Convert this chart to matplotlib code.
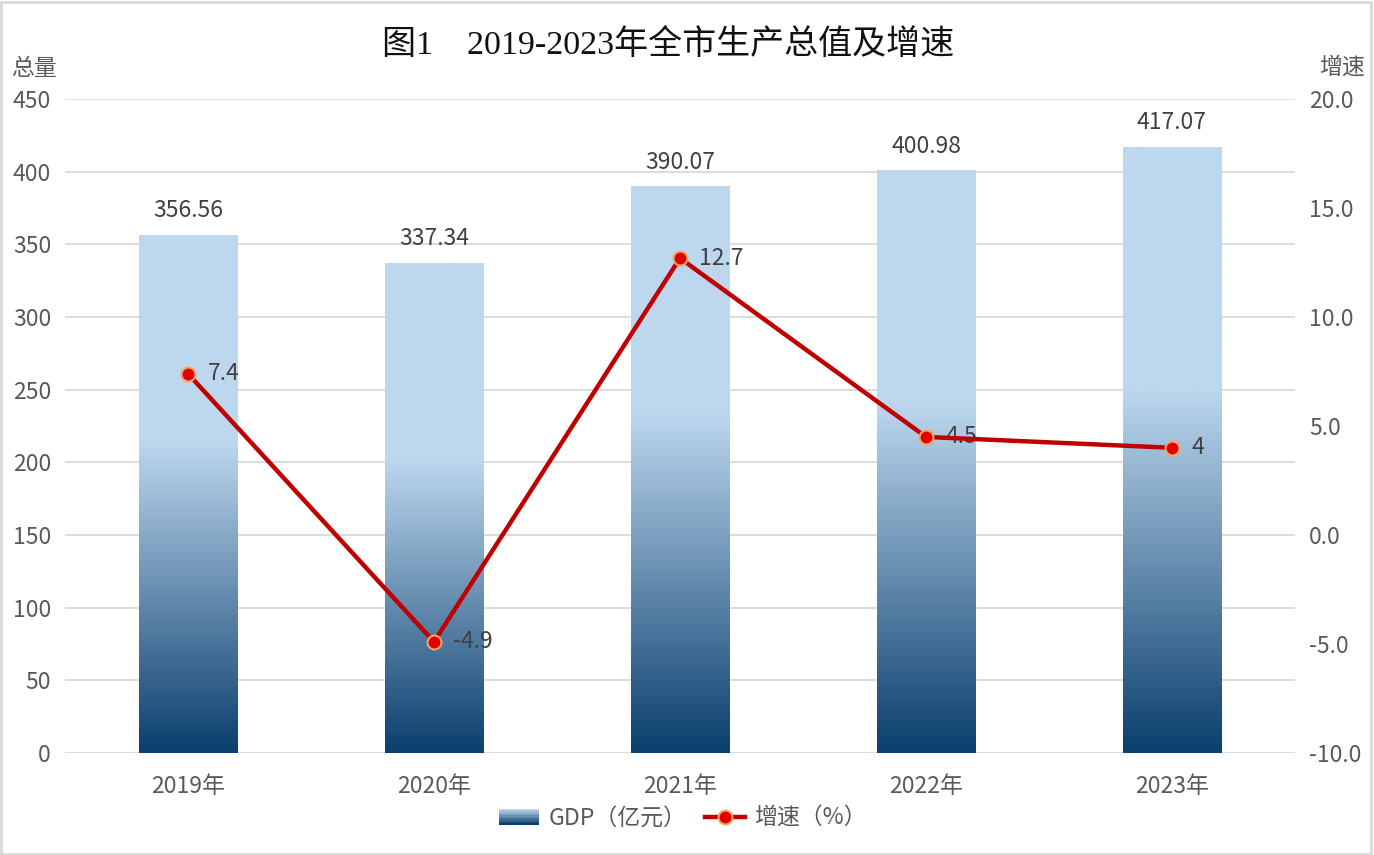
import matplotlib
matplotlib.use("Agg")
import matplotlib.pyplot as plt
import numpy as np
from matplotlib.colors import LinearSegmentedColormap
from matplotlib.legend_handler import HandlerBase
from matplotlib.patches import Rectangle
from matplotlib.lines import Line2D

plt.rcParams['font.family'] = ['Noto Sans CJK SC', 'DejaVu Sans']

years = ['2019年', '2020年', '2021年', '2022年', '2023年']
gdp = [356.56, 337.34, 390.07, 400.98, 417.07]
growth = [7.4, -4.9, 12.7, 4.5, 4]
growth_labels = ['7.4', '-4.9', '12.7', '4.5', '4']

dark = '#0B3F6E'
light = '#BDD7EE'
cmap = LinearSegmentedColormap.from_list('gdp', [(0, dark), (0.6, light), (1, light)])

fs = 16.5

fig = plt.figure(figsize=(13.74, 8.55), dpi=100)
ax = fig.add_axes([0.0473, 0.1193, 0.8952, 0.7649])
ax2 = ax.twinx()

x = np.arange(len(years))
bars = ax.bar(x, gdp, width=0.4, color='none', edgecolor='none', zorder=2)
grad = np.linspace(0, 1, 256).reshape(-1, 1)
for b in bars:
    im = ax.imshow(grad, cmap=cmap, origin='lower', aspect='auto', zorder=2,
                   extent=[b.get_x(), b.get_x() + b.get_width(), 0, b.get_height()])
    im.set_clip_path(b)

for xi, v in zip(x, gdp):
    ax.annotate(f'{v:.2f}', (xi, v), xytext=(0, 9), textcoords='offset points',
                ha='center', va='bottom', fontsize=fs, color='#404040')

ax.set_xlim(-0.5, len(years) - 0.5)
ax.set_ylim(0, 450)
ax.set_yticks(range(0, 451, 50))
ax.set_xticks(x)
ax.set_xticklabels(years)
ax.grid(axis='y', color='#D9D9D9', linewidth=1.3, zorder=0)
ax.set_axisbelow(True)

ax2.plot(x, growth, color='#C00000', linewidth=3.2, marker='o', markersize=10,
         markerfacecolor='#E00000', markeredgecolor='#F4A460', markeredgewidth=1.5,
         zorder=5)
for xi, v, s in zip(x, growth, growth_labels):
    ax2.annotate(s, (xi, v), xytext=(14, 0), textcoords='offset points',
                 ha='left', va='center', fontsize=fs, color='#404040')
ax2.set_ylim(-10, 20)
ax2.set_yticks(range(-10, 21, 5))
ax2.set_yticklabels([f'{t:.1f}' for t in range(-10, 21, 5)])

for a in (ax, ax2):
    for sp in a.spines.values():
        sp.set_visible(False)
    a.tick_params(length=0, labelsize=fs, labelcolor='#595959')
ax.tick_params(axis='x', pad=16)
ax.tick_params(axis='y', pad=10)
ax2.tick_params(axis='y', pad=10)

fig.text(0.486, 0.947, '图1　2019-2023年全市生产总值及增速', ha='center', va='center',
         fontsize=24.5, color='#111111', family=['Liberation Serif', 'Noto Sans CJK SC'])
fig.text(0.008, 0.92, '总量', ha='left', va='center', fontsize=fs, color='#595959')
fig.text(0.993, 0.922, '增速', ha='right', va='center', fontsize=fs, color='#595959')


class GradientHandler(HandlerBase):
    def create_artists(self, legend, orig_handle, xdescent, ydescent, width, height, fontsize, trans):
        n = 12
        arts = []
        for i in range(n):
            c = cmap(0.6 * i / (n - 1) if i < n - 1 else 1.0)
            r = Rectangle((-xdescent, -ydescent + height * i / n), width, height / n,
                          facecolor=c, edgecolor='none', transform=trans)
            arts.append(r)
        return arts


bar_handle = Rectangle((0, 0), 1, 1)
line_handle = Line2D([], [], color='#C00000', linewidth=3.2, marker='o', markersize=10,
                     markerfacecolor='#E00000', markeredgecolor='#F4A460', markeredgewidth=1.5)
leg = fig.legend([bar_handle, line_handle], ['GDP（亿元）', '增速（%）'],
                 loc='center', bbox_to_anchor=(0.497, 0.043), ncol=2, frameon=False,
                 fontsize=fs, handler_map={Rectangle: GradientHandler()},
                 handlelength=1.75, handleheight=0.7, columnspacing=0.8, handletextpad=0.4)
for t in leg.get_texts():
    t.set_color('#595959')

fig.patches.append(Rectangle((0.001, 0.001), 0.997, 0.997, transform=fig.transFigure,
                             facecolor='none', edgecolor='#D9D9D9', linewidth=2))

fig.savefig('out.png', dpi=100)
